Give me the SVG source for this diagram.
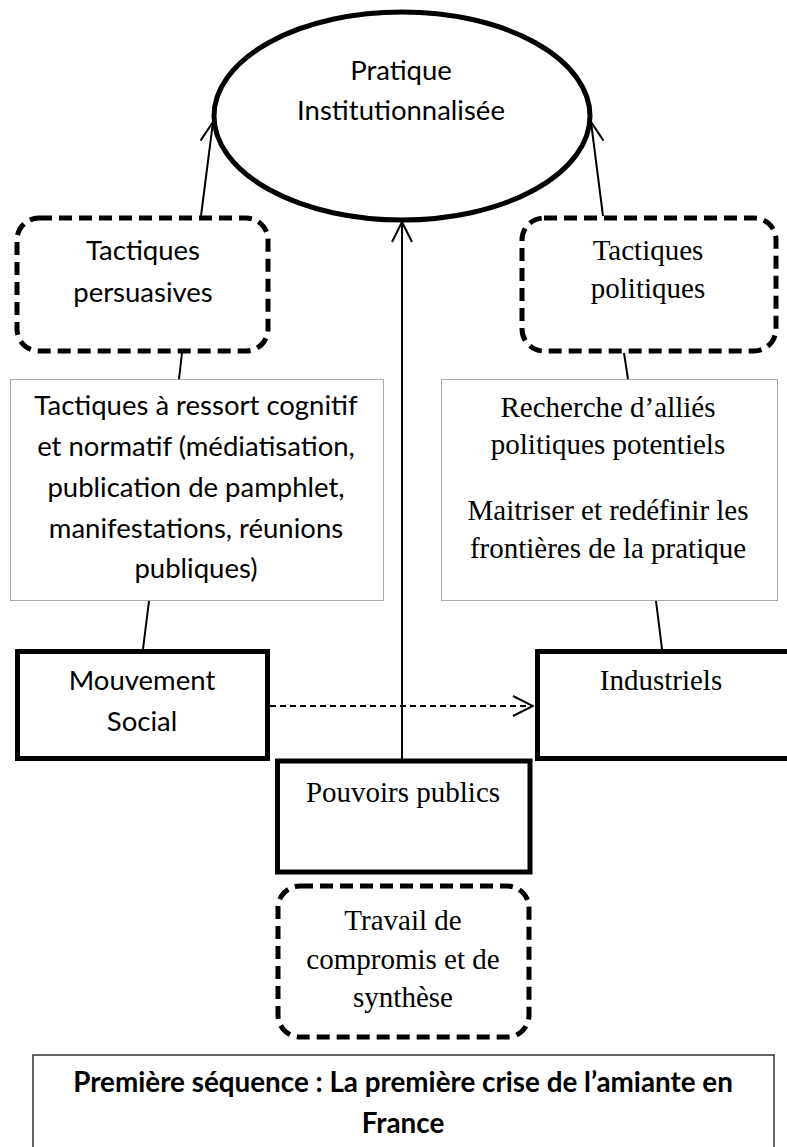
<svg xmlns="http://www.w3.org/2000/svg" width="787" height="1147" viewBox="0 0 787 1147">
<style>
.sans{font-family:Lato,"Open Sans",sans-serif;font-size:27.5px;fill:#000;text-anchor:middle}
.serif{font-family:"Liberation Serif","Times New Roman",serif;font-size:29px;fill:#000;text-anchor:middle}
.bold{font-weight:bold;font-size:27.8px}
.dash{fill:#fff;stroke:#000;stroke-width:5;stroke-dasharray:13 7}
.dot{fill:#fff;stroke:#555;stroke-width:1;stroke-dasharray:1 1}
.solid{fill:#fff;stroke:#000;stroke-width:5}
.conn{stroke:#000;stroke-width:2;fill:none}
</style>
<defs>
<marker id="arr" viewBox="0 0 22 22" refX="21" refY="11" markerWidth="22" markerHeight="22" markerUnits="userSpaceOnUse" orient="auto">
<path d="M1,1 L21,11 L1,21" fill="none" stroke="#000" stroke-width="2"/>
</marker>
</defs>
<rect width="787" height="1147" fill="#fff"/>
<g id="connectors">
<line class="conn" x1="201" y1="216" x2="213" y2="122" marker-end="url(#arr)"/>
<line class="conn" x1="603" y1="216" x2="591" y2="122" marker-end="url(#arr)"/>
<line class="conn" x1="402" y1="760" x2="402" y2="222" marker-end="url(#arr)"/>
<line class="conn" x1="182" y1="353" x2="179" y2="379"/>
<line class="conn" x1="624" y1="353" x2="628" y2="379"/>
<line class="conn" x1="149" y1="601" x2="143" y2="649"/>
<line class="conn" x1="656" y1="601" x2="662" y2="649"/>
<line class="conn" x1="270" y1="706" x2="533" y2="706" stroke-dasharray="6 4" marker-end="url(#arr)"/>
</g>
<g id="pratique">
<ellipse cx="402" cy="116" rx="188" ry="104" fill="none" stroke="#000" stroke-width="5"/>
<text class="sans" x="401" y="80">Pratique</text>
<text class="sans" x="401" y="120">Institutionnalisée</text>
</g>
<g id="tactiques-persuasives">
<rect class="dash" x="17" y="218" width="251" height="133" rx="22"/>
<text class="sans" x="143" y="260">Tactiques</text>
<text class="sans" x="143" y="302">persuasives</text>
</g>
<g id="tactiques-politiques">
<rect class="dash" x="522" y="218" width="254" height="133" rx="22"/>
<text class="serif" x="648" y="260">Tactiques</text>
<text class="serif" x="648" y="298">politiques</text>
</g>
<g id="tactiques-cognitif">
<rect class="dot" x="10.5" y="379.5" width="373" height="221"/>
<text class="sans" x="196" y="415">Tactiques à ressort cognitif</text>
<text class="sans" x="196" y="456">et normatif (médiatisation,</text>
<text class="sans" x="196" y="497">publication de pamphlet,</text>
<text class="sans" x="196" y="538">manifestations, réunions</text>
<text class="sans" x="196" y="578">publiques)</text>
</g>
<g id="recherche-allies">
<rect class="dot" x="441.5" y="379.5" width="336" height="221"/>
<text class="serif" x="608" y="417">Recherche d’alliés</text>
<text class="serif" x="608" y="454">politiques potentiels</text>
<text class="serif" x="608" y="520">Maitriser et redéfinir les</text>
<text class="serif" x="608" y="558">frontières de la pratique</text>
</g>
<g id="mouvement-social">
<rect class="solid" x="17.5" y="651.5" width="250" height="107"/>
<text class="sans" x="142" y="690">Mouvement</text>
<text class="sans" x="142" y="731">Social</text>
</g>
<g id="industriels">
<rect class="solid" x="537.5" y="651.5" width="265" height="107"/>
<text class="serif" x="661" y="690">Industriels</text>
</g>
<g id="pouvoirs-publics">
<rect class="solid" x="277.5" y="761" width="252.5" height="111"/>
<text class="serif" x="403" y="802">Pouvoirs publics</text>
</g>
<g id="travail-compromis">
<rect class="dash" x="278" y="886" width="251" height="151" rx="22"/>
<text class="serif" x="403" y="930">Travail de</text>
<text class="serif" x="403" y="969">compromis et de</text>
<text class="serif" x="403" y="1007">synthèse</text>
</g>
<g id="titre">
<rect x="33" y="1055" width="741" height="110" fill="#fff" stroke="#333" stroke-width="1.5"/>
<text class="sans bold" x="403" y="1092">Première séquence : La première crise de l’amiante en</text>
<text class="sans bold" x="403" y="1133">France</text>
</g>
</svg>
